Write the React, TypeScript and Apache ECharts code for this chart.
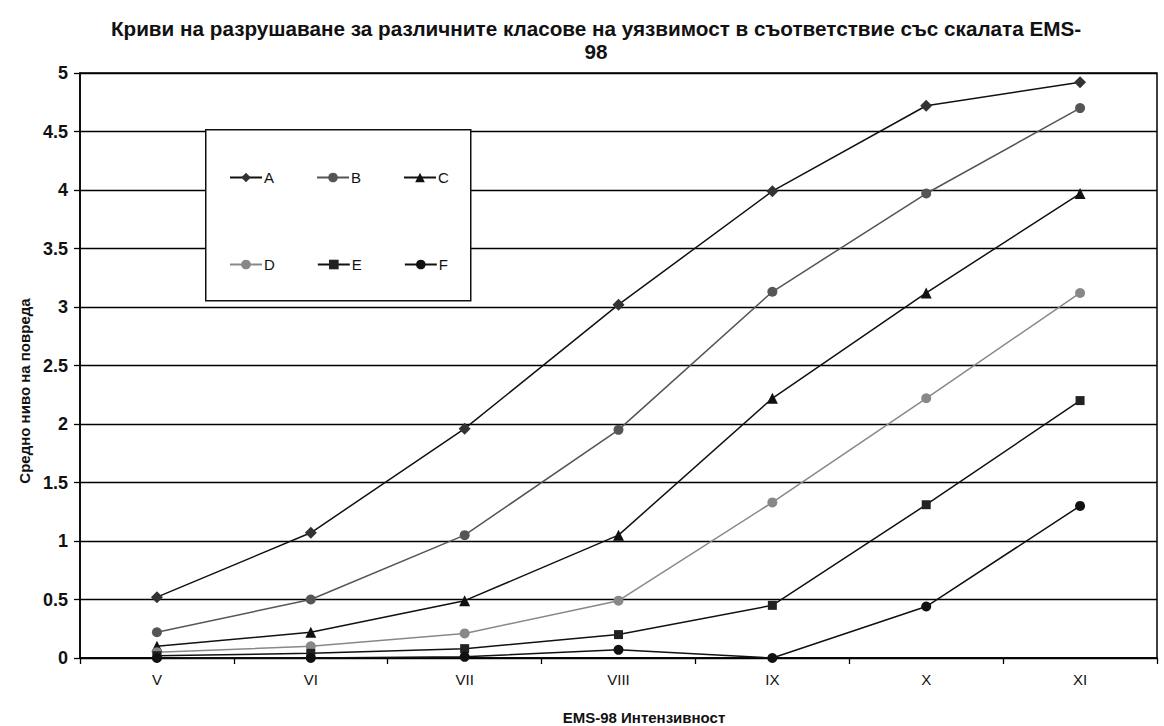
import React, { useEffect, useRef } from 'react';
import * as echarts from 'echarts';

const categories = ['V', 'VI', 'VII', 'VIII', 'IX', 'X', 'XI'];
const seriesNames = ['A', 'B', 'C', 'D', 'E', 'F'];
const valuesA = [0.52, 1.07, 1.96, 3.02, 3.99, 4.72, 4.92];
const valuesB = [0.22, 0.5, 1.05, 1.95, 3.13, 3.97, 4.7];
const valuesC = [0.1, 0.22, 0.49, 1.05, 2.22, 3.12, 3.97];
const valuesD = [0.05, 0.1, 0.21, 0.49, 1.33, 2.22, 3.12];
const valuesE = [0.02, 0.04, 0.08, 0.2, 0.45, 1.31, 2.2];
const valuesF = [0.0, 0.0, 0.01, 0.07, 0.0, 0.44, 1.3];

const titleText =
  'Криви на разрушаване за различните класове на уязвимост в съответствие със скалата EMS-\n98';
const yAxisTitle = 'Средно ниво на повреда';
const xAxisTitle = 'EMS-98 Интензивност';

const FONT = '"Liberation Sans", Arial, sans-serif';

export default function App() {
  const ref = useRef<HTMLDivElement>(null);
  useEffect(() => {
    if (!ref.current) return;
    const chart = echarts.init(ref.current, null, { renderer: 'svg' });
    const data = [valuesA, valuesB, valuesC, valuesD, valuesE, valuesF];
    const styles = [
      { line: '#111', mark: '#333', symbol: 'diamond', size: 12 },
      { line: '#555', mark: '#555', symbol: 'circle', size: 10 },
      { line: '#111', mark: '#111', symbol: 'triangle', size: 11 },
      { line: '#888', mark: '#888', symbol: 'circle', size: 10 },
      { line: '#111', mark: '#222', symbol: 'rect', size: 9 },
      { line: '#111', mark: '#111', symbol: 'circle', size: 10 },
    ];
    const series = seriesNames.map((name, i) => ({
      name,
      type: 'line',
      data: data[i],
      symbol: styles[i].symbol,
      symbolSize: styles[i].size,
      lineStyle: { color: styles[i].line, width: 1.5 },
      itemStyle: { color: styles[i].mark },
      z: 5,
    }));
    const legendCommon = {
      orient: 'horizontal',
      itemWidth: 32,
      itemHeight: 12,
      itemGap: 42,
      textStyle: { fontFamily: FONT, fontSize: 15, color: '#111', padding: [0, 0, 0, -3] },
      selectedMode: false,
    };
    chart.setOption({
      animation: false,
      backgroundColor: '#fff',
      textStyle: { fontFamily: FONT },
      title: {
        text: titleText,
        left: 591,
        top: 12,
        textAlign: 'center',
        textStyle: { fontFamily: FONT, fontSize: 20.7, fontWeight: 'bold', color: '#111', lineHeight: 23 },
      },
      legend: [
        { ...legendCommon, data: ['A', 'B', 'C'], left: 224, top: 165 },
        { ...legendCommon, data: ['D', 'E', 'F'], left: 224, top: 252 },
      ],
      grid: {
        left: 80,
        right: 7,
        top: 73,
        bottom: 68,
        show: true,
        borderColor: '#000',
        borderWidth: 1.5,
      },
      xAxis: {
        type: 'category',
        data: categories,
        boundaryGap: true,
        axisLine: { lineStyle: { color: '#000', width: 1.5 } },
        axisTick: { show: true, length: 6, lineStyle: { color: '#000', width: 1.3 } },
        axisLabel: { fontFamily: FONT, fontSize: 15, color: '#111', margin: 14 },
        splitLine: { show: false },
      },
      yAxis: {
        type: 'value',
        min: 0,
        max: 5,
        interval: 0.5,
        axisLine: { show: true, lineStyle: { color: '#000', width: 1.5 } },
        axisTick: { show: true, length: 6, lineStyle: { color: '#000', width: 1.3 } },
        axisLabel: { fontFamily: FONT, fontSize: 18, fontWeight: 'bold', color: '#111', margin: 12 },
        splitLine: { show: true, lineStyle: { color: '#000', width: 1.3 } },
      },
      graphic: [
        {
          type: 'rect',
          left: 205,
          top: 129,
          shape: { width: 265, height: 171 },
          style: { fill: '#fff', stroke: '#111', lineWidth: 1.5 },
          z: 3,
        },
        {
          type: 'text',
          x: 24,
          y: 391,
          rotation: Math.PI / 2,
          style: {
            text: yAxisTitle,
            fontFamily: FONT,
            fontSize: 15,
            fontWeight: 'bold',
            fill: '#111',
            textAlign: 'center',
            textVerticalAlign: 'middle',
          },
        },
        {
          type: 'text',
          x: 644,
          y: 717,
          style: {
            text: xAxisTitle,
            fontFamily: FONT,
            fontSize: 15,
            fontWeight: 'bold',
            fill: '#111',
            textAlign: 'center',
            textVerticalAlign: 'middle',
          },
        },
      ],
      series,
    });
    return () => chart.dispose();
  }, []);
  return (
    <div
      ref={ref}
      style={{ position: 'absolute', left: 0, top: 0, width: 1164, height: 726 }}
    />
  );
}
